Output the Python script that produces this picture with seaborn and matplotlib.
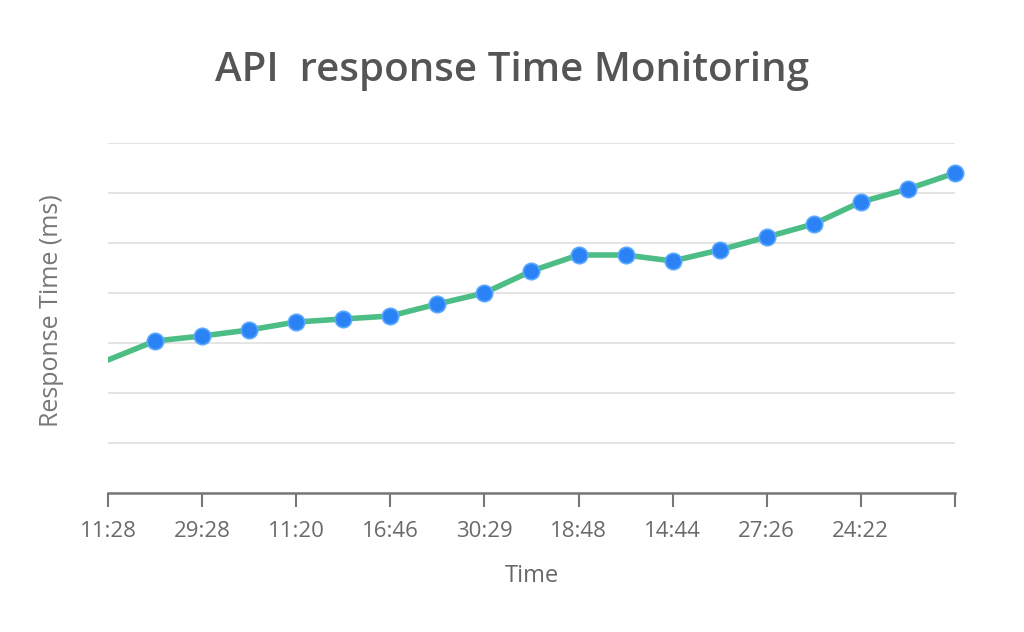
import matplotlib
matplotlib.use("Agg")
import matplotlib.pyplot as plt
import seaborn as sns
import pandas as pd

# data (ms, no y tick labels shown)
step = list(range(19))
response_ms = [133, 152, 157, 163, 171, 174, 177, 189, 200, 222,
               238, 238, 232, 243, 256, 269, 291, 304, 320]
tick_labels = ["11:28", "29:28", "11:20", "16:46", "30:29",
               "18:48", "14:44", "27:26", "24:22", ""]

df = pd.DataFrame({"step": step, "ms": response_ms})

sns.set_theme(style="white")
plt.rcParams["font.family"] = ["Open Sans", "DejaVu Sans"]

fig = plt.figure(figsize=(10.24, 6.32), dpi=100)
ax = fig.add_axes([0.1055, 0.22, 0.827, 0.5537])

sns.lineplot(data=df, x="step", y="ms", ax=ax, color="#4dbd86", linewidth=4,
             zorder=2)
sns.scatterplot(data=df.iloc[1:], x="step", y="ms", ax=ax, color="#2b82f5",
                s=140, edgecolor="#5aa8ff", linewidth=1.2, zorder=3)
for coll in ax.collections:
    coll.set_clip_on(False)

ax.set_xlim(0, 18)
ax.set_ylim(0, 350)
ax.set_yticks(range(0, 351, 50))
ax.set_yticklabels([])
ax.yaxis.grid(True, color="#e2e2e2", linewidth=1.3)
ax.xaxis.grid(False)
ax.tick_params(axis="y", length=0)

ax.set_xticks(range(0, 19, 2))
ax.set_xticklabels(tick_labels, fontsize=16, color="#6a6a6a")
ax.tick_params(axis="x", direction="out", length=10, width=1.5,
               color="#777777", pad=10, bottom=True)

for side in ["top", "right", "left"]:
    ax.spines[side].set_visible(False)
ax.spines["bottom"].set_color("#777777")
ax.spines["bottom"].set_linewidth(1.8)

ax.set_xlabel("Time", fontsize=17, color="#666666", labelpad=16)
ax.set_ylabel("Response Time (ms)", fontsize=18, color="#777777")
ax.yaxis.set_label_coords(-0.052, 0.52)

fig.suptitle("API  response Time Monitoring", fontsize=29, fontweight="semibold",
             color="#555555", y=0.92)

fig.savefig("out.png", dpi=100, facecolor="white")
